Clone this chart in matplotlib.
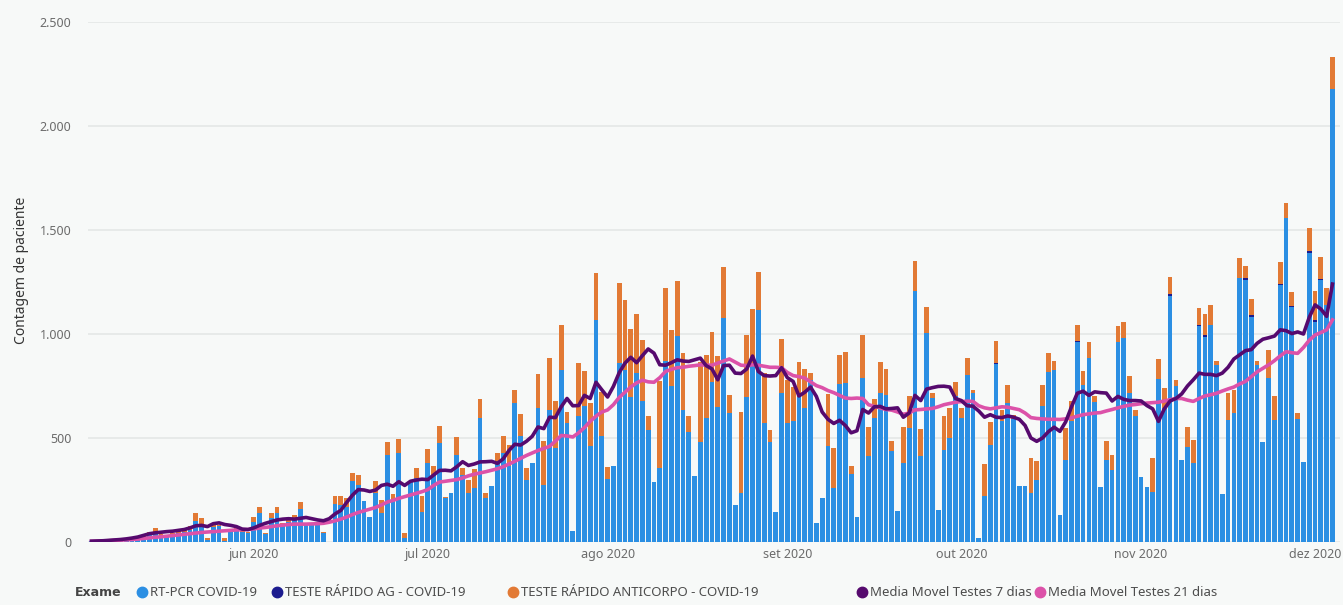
import numpy as np
import pandas as pd
import matplotlib
matplotlib.use("Agg")
import matplotlib.pyplot as plt
from matplotlib.lines import Line2D

# dados diarios, 04/05/2020 ate 04/12/2020
inicio = "2020-05-04"
n_dias = 215

rtpcr = [
    3, 5, 8, 6, 10, 8, 10, 12, 18, 25,
    38, 45, 35, 25, 38, 45, 48, 60, 100, 85,
    12, 70, 75, 5, 55, 60, 50, 45, 95, 140,
    40, 115, 140, 80, 95, 105, 158, 80, 82, 82,
    45, 0, 183, 178, 170, 291, 275, 195, 119, 235,
    138, 420, 203, 428, 18, 291, 307, 146, 380, 323,
    476, 210, 235, 420, 323, 235, 259, 597, 210, 267,
    388, 430, 363, 669, 508, 299, 380, 643, 275, 637,
    452, 825, 572, 55, 608, 653, 462, 1065, 508, 301,
    366, 860, 828, 698, 811, 676, 538, 290, 358, 872,
    748, 989, 636, 527, 315, 483, 598, 768, 650, 1076,
    619, 178, 234, 699, 859, 1116, 571, 483, 146, 716,
    574, 583, 699, 643, 779, 90, 210, 462, 258, 760,
    766, 327, 122, 788, 414, 594, 716, 709, 436, 150,
    379, 548, 1208, 415, 1005, 693, 154, 444, 500, 701,
    597, 801, 714, 18, 222, 468, 854, 580, 669, 589,
    267, 270, 235, 299, 653, 817, 826, 130, 392, 580,
    962, 753, 886, 672, 264, 392, 347, 962, 982, 717,
    605, 311, 265, 239, 784, 645, 1185, 749, 392, 455,
    380, 1039, 987, 1044, 851, 229, 587, 619, 1268, 1260,
    1084, 851, 481, 787, 587, 1236, 1557, 1132, 590, 386,
    1391, 1060, 1260, 1140, 2180,
]

teste_ag = [0] * 156 + [
    6, 0, 0, 0, 0, 0, 0, 0, 0, 0,
    0, 0, 0, 0, 5, 0, 0, 0, 0, 0,
    0, 0, 0, 0, 0, 0, 0, 0, 0, 0,
    6, 0, 0, 0, 0, 5, 6, 0, 0, 0,
    0, 0, 0, 8, 6, 0, 0, 0, 0, 6,
    0, 5, 0, 0, 6, 8, 6, 0, 0,
]

anticorpo = [
    0, 0, 0, 0, 0, 0, 2, 3, 6, 10,
    12, 20, 5, 5, 7, 8, 10, 15, 40, 30,
    8, 10, 5, 15, 5, 8, 5, 3, 25, 30,
    5, 25, 30, 10, 15, 25, 32, 0, 0, 0,
    5, 0, 39, 44, 40, 40, 48, 0, 0, 59,
    65, 61, 27, 67, 24, 0, 48, 73, 67, 40,
    84, 5, 0, 85, 32, 64, 91, 91, 25, 0,
    40, 78, 105, 61, 109, 55, 0, 167, 209, 246,
    225, 217, 54, 0, 254, 169, 208, 226, 215, 61,
    0, 385, 336, 327, 283, 295, 66, 0, 415, 350,
    271, 268, 272, 79, 0, 383, 300, 242, 245, 248,
    87, 0, 393, 296, 260, 184, 240, 56, 0, 261,
    205, 164, 165, 187, 32, 0, 0, 250, 196, 139,
    149, 38, 0, 209, 137, 93, 148, 124, 48, 0,
    174, 153, 144, 128, 127, 24, 0, 161, 145, 68,
    48, 85, 16, 0, 154, 109, 104, 57, 88, 22,
    0, 0, 169, 89, 100, 90, 44, 0, 156, 97,
    77, 69, 76, 29, 0, 92, 73, 77, 76, 81,
    32, 0, 0, 164, 98, 95, 83, 29, 0, 100,
    108, 81, 105, 96, 21, 0, 128, 112, 96, 61,
    80, 21, 0, 136, 117, 104, 72, 67, 29, 0,
    113, 139, 104, 80, 150,
]

media_7 = [
    4, 5, 6, 8, 10, 12, 15, 19, 24, 32,
    40, 44, 47, 50, 52, 56, 60, 68, 78, 80,
    74, 88, 92, 84, 80, 74, 62, 60, 68, 80,
    90, 98, 106, 110, 112, 110, 114, 118, 112, 106,
    102, 112, 135, 152, 190, 225, 252, 250, 243, 250,
    272, 278, 268, 290, 272, 292, 298, 302, 300, 322,
    344, 345, 342, 362, 386, 368, 375, 385, 386, 388,
    378, 400, 440, 470, 466, 484, 508, 553, 545, 600,
    598, 650, 690, 655, 656, 705, 690, 768, 732, 697,
    748, 814, 860, 888, 862, 896, 928, 908, 852, 850,
    862, 876, 870, 868, 876, 884, 848, 832, 780, 848,
    850, 812, 810, 832, 894, 820, 800, 798, 800, 838,
    790, 772, 702, 720, 745, 700, 625, 590, 570, 585,
    560, 525, 535, 637, 620, 650, 652, 640, 642, 645,
    600, 620, 705, 680, 735, 742, 748, 749, 745, 690,
    680, 655, 653, 630, 600, 612, 600, 598, 606, 600,
    590, 560, 500, 484, 500, 530, 552, 532, 578, 650,
    715, 725, 705, 722, 718, 716, 678, 700, 686, 680,
    680, 678, 656, 640, 580, 640, 678, 690, 712, 750,
    780, 812, 806, 806, 800, 812, 840, 880, 900, 920,
    925, 955, 975, 982, 990, 1020, 1016, 1002, 1010, 1000,
    1080, 1140, 1120, 1085, 1240,
]

media_21 = [
    3, 4, 5, 6, 8, 9, 10, 12, 14, 17,
    20, 23, 25, 28, 31, 34, 37, 40, 43, 46,
    48, 50, 52, 54, 56, 58, 59, 60, 63, 67,
    70, 74, 78, 81, 84, 86, 86, 86, 87, 88,
    90, 95, 102, 110, 120, 132, 142, 150, 158, 166,
    178, 192, 200, 210, 218, 226, 234, 242, 252, 272,
    288, 292, 296, 300, 308, 318, 326, 332, 338, 345,
    352, 362, 375, 388, 402, 416, 428, 440, 450, 460,
    485, 512, 510, 505, 525, 550, 580, 605, 625, 635,
    660, 695, 720, 745, 765, 778, 770, 768, 790, 820,
    830, 838, 840, 845, 848, 852, 850, 850, 860, 870,
    880, 865, 850, 848, 852, 850, 845, 840, 840, 838,
    815, 800, 795, 788, 770, 752, 742, 728, 718, 705,
    692, 690, 692, 690, 660, 652, 645, 637, 634, 625,
    614, 620, 635, 637, 640, 642, 650, 660, 666, 672,
    675, 677, 676, 655, 645, 640, 645, 650, 648, 642,
    636, 620, 598, 594, 592, 590, 590, 589, 592, 597,
    605, 612, 616, 620, 622, 630, 637, 645, 652, 658,
    661, 665, 668, 670, 672, 678, 684, 690, 690, 682,
    676, 690, 702, 708, 715, 726, 736, 745, 760, 772,
    795, 818, 835, 852, 872, 895, 915, 910, 907, 935,
    970, 995, 1007, 1020, 1068,
]

meses = ["jun", "jul", "ago", "set", "out", "nov", "dez"]

# cores
fundo = "#f7f9f8"
azul = "#2b8fe3"
azul_escuro = "#1c1c8f"
laranja = "#e27a35"
roxo = "#560a6e"
rosa = "#dc52a9"

W, H = 1343, 605
plt.rcParams["font.family"] = ["Noto Sans", "DejaVu Sans"]

dias = pd.date_range(inicio, periods=n_dias)
x = np.arange(n_dias)
rt = np.array(rtpcr)
ag = np.array(teste_ag)
ac = np.array(anticorpo)

fig = plt.figure(figsize=(W / 100, H / 100), dpi=100, facecolor=fundo)
ax = fig.add_axes([88 / W, 1 - 542 / H, (1340 - 88) / W, (542 - 22) / H])
ax.set_facecolor(fundo)

ax.bar(x, rt, width=0.82, color=azul, zorder=2)
ax.bar(x, ag, width=0.82, bottom=rt, color=azul_escuro, zorder=2)
ax.bar(x, ac, width=0.82, bottom=rt + ag, color=laranja, zorder=2)
ax.plot(x, media_7, color=roxo, lw=2.6, zorder=4, solid_joinstyle="round")
ax.plot(x, media_21, color=rosa, lw=2.6, zorder=3, solid_joinstyle="round")

ax.set_xlim(-0.6, 215.3)
ax.set_ylim(0, 2500)
yt = [0, 500, 1000, 1500, 2000, 2500]
ax.set_yticks(yt)
ax.set_yticklabels([f"{v:,}".replace(",", ".") for v in yt])
ax.grid(axis="y", color="#e4e7e6", lw=1.2, zorder=0)

# inicio de cada mes
pos_mes = [i for i, d in enumerate(dias) if d.day == 1]
ax.set_xticks(pos_mes)
ax.set_xticklabels([f"{meses[dias[i].month - 6]} 2020" for i in pos_mes])
ax.tick_params(axis="both", length=0, colors="#6b6b6b", labelsize=9)
ax.tick_params(axis="y", pad=12)
ax.tick_params(axis="x", pad=4)
for s in ax.spines.values():
    s.set_visible(False)

fig.text(22 / W, 1 - 270 / H, "Contagem de paciente", rotation=90,
         ha="center", va="center", fontsize=10, color="#333333")

# legenda
yl = 1 - 592 / H
fig.text(75 / W, yl, "Exame", fontsize=9, weight="bold", color="#444444",
         va="center", family="DejaVu Sans")
itens = [
    (142, "RT-PCR COVID-19", azul),
    (277, "TESTE RÁPIDO AG - COVID-19", azul_escuro),
    (513, "TESTE RÁPIDO ANTICORPO - COVID-19", laranja),
    (862, "Media Movel Testes 7 dias", roxo),
    (1040, "Media Movel Testes 21 dias", rosa),
]
for px, txt, cor in itens:
    fig.add_artist(Line2D([px / W], [yl], marker="o", markersize=7.5,
                          color=cor, transform=fig.transFigure))
    fig.text((px + 8) / W, yl, txt, fontsize=9.5, color="#4d4d4d",
             va="center")

fig.savefig("out.png", dpi=100, facecolor=fundo)
